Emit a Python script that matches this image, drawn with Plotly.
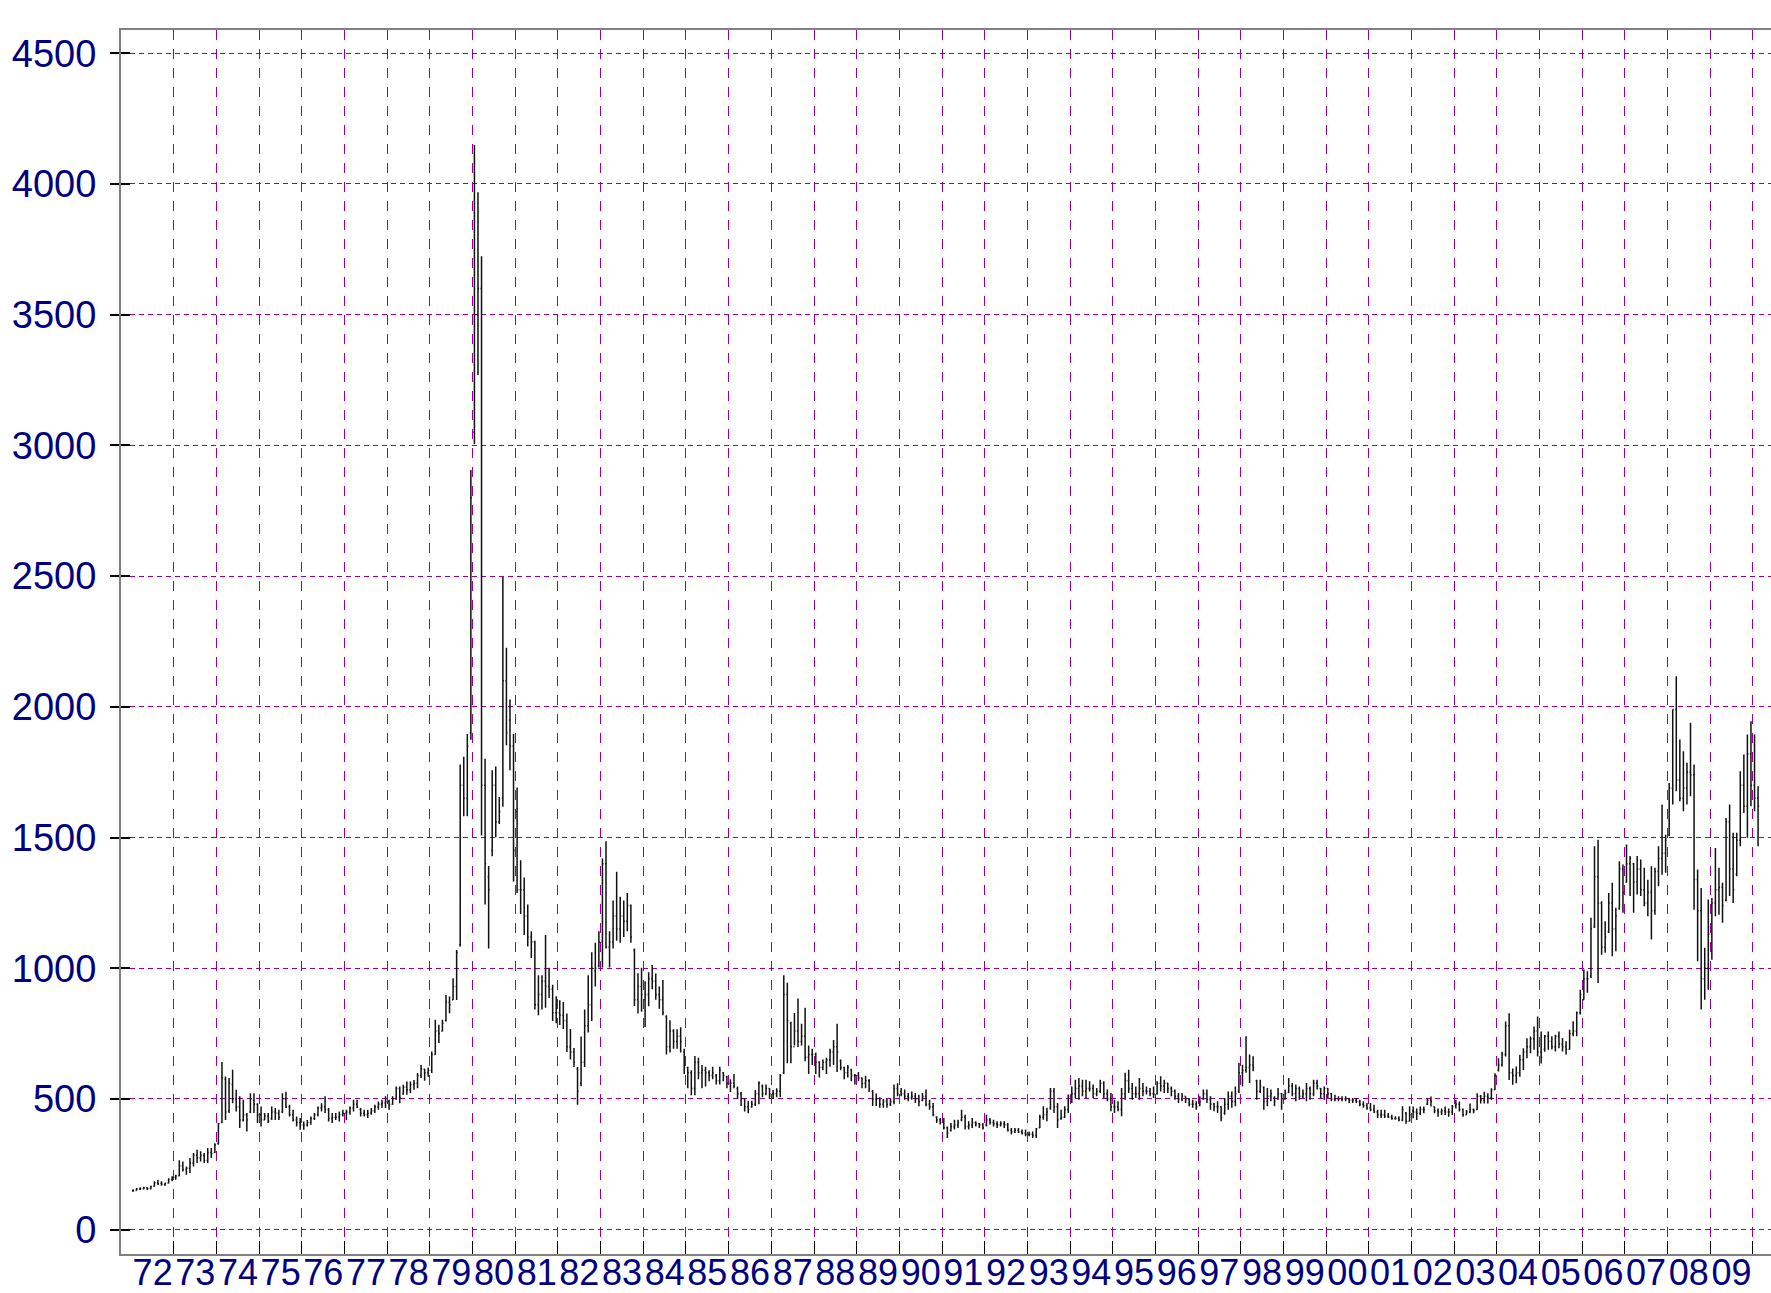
import plotly.graph_objects as go

# Monthly price bars (cents), Jan 1972 .. Feb 2010, one row per year (Jan..Dec)
first_year = 1972

high = [
    155, 159, 162, 164, 162, 168, 185, 190, 185, 180, 197, 204,          # 1972
    210, 266, 261, 242, 274, 293, 306, 300, 293, 312, 312, 331,          # 1973
    408, 641, 586, 580, 612, 535, 510, 497, 446, 522, 522, 484,          # 1974
    471, 446, 446, 471, 465, 459, 522, 528, 478, 459, 433, 427,          # 1975
    414, 420, 433, 446, 471, 484, 510, 465, 446, 446, 452, 459,          # 1976
    459, 471, 497, 497, 465, 459, 459, 465, 478, 490, 497, 510,          # 1977
    497, 510, 548, 548, 554, 567, 567, 573, 599, 630, 615, 620,          # 1978
    682, 803, 784, 803, 898, 892, 962, 1070, 1779, 1809, 1896, 2906,     # 1979
    4149, 3968, 3724, 1801, 1391, 1757, 1772, 1655, 2497, 2226, 2028, 1896,  # 1980
    1691, 1413, 1347, 1244, 1142, 1105, 973, 973, 1127, 1002, 937, 893,  # 1981
    878, 871, 827, 768, 695, 622, 739, 842, 973, 1061, 1098, 1142,       # 1982
    1420, 1486, 1142, 1259, 1369, 1274, 1259, 1288, 1244, 1076, 981, 1002,  # 1983
    950, 985, 1012, 980, 930, 955, 820, 801, 767, 767, 774, 692,         # 1984
    623, 610, 664, 658, 630, 623, 610, 623, 596, 623, 603, 589,          # 1985
    575, 596, 548, 527, 500, 493, 493, 534, 568, 555, 555, 541,          # 1986
    534, 541, 596, 973, 945, 795, 829, 884, 788, 849, 705, 692,          # 1987
    678, 644, 651, 658, 692, 726, 788, 651, 623, 630, 616, 596,          # 1988
    603, 582, 589, 575, 534, 521, 507, 500, 500, 500, 555, 560,          # 1989
    542, 536, 523, 529, 523, 516, 523, 536, 497, 485, 434, 427,          # 1990
    427, 395, 408, 421, 421, 459, 440, 415, 427, 415, 408, 408,          # 1991
    440, 427, 421, 415, 415, 415, 408, 389, 389, 389, 383, 383,          # 1992
    376, 376, 389, 440, 472, 466, 542, 542, 485, 459, 472, 517,          # 1993
    548, 574, 580, 574, 574, 568, 555, 542, 574, 568, 536, 523,          # 1994
    497, 491, 542, 600, 612, 561, 548, 580, 561, 548, 542, 548,          # 1995
    568, 587, 574, 561, 548, 536, 523, 523, 510, 504, 497, 491,          # 1996
    510, 536, 536, 510, 485, 491, 472, 504, 529, 529, 548, 638,          # 1997
    631, 740, 670, 663, 574, 574, 548, 542, 536, 510, 542, 523,          # 1998
    536, 580, 561, 555, 548, 536, 561, 548, 574, 574, 542, 548,          # 1999
    542, 523, 516, 510, 510, 510, 504, 504, 504, 497, 491, 485,          # 2000
    485, 478, 459, 459, 459, 446, 440, 434, 434, 472, 450, 472,          # 2001
    471, 464, 471, 471, 503, 509, 471, 464, 464, 471, 464, 477,          # 2002
    496, 490, 464, 458, 483, 464, 522, 515, 528, 522, 541, 598,          # 2003
    656, 681, 796, 828, 617, 624, 668, 694, 732, 739, 777, 815,          # 2004
    758, 745, 758, 740, 746, 758, 733, 721, 765, 797, 835, 918,          # 2005
    995, 989, 1193, 1467, 1492, 1256, 1180, 1288, 1327, 1231, 1409, 1397,  # 2006
    1473, 1429, 1403, 1429, 1416, 1384, 1339, 1390, 1384, 1467, 1626, 1511,  # 2007
    1709, 1990, 2117, 1875, 1830, 1786, 1939, 1779, 1378, 1307, 1078, 1263,  # 2008
    1269, 1460, 1384, 1327, 1575, 1626, 1518, 1518, 1754, 1818, 1894, 1945,  # 2009
    1894, 1696,                                                          # 2010
]

low = [
    145, 150, 152, 154, 152, 155, 164, 171, 168, 168, 177, 185,
    191, 204, 223, 210, 217, 242, 255, 261, 255, 255, 274, 293,
    325, 408, 420, 446, 484, 452, 389, 414, 376, 446, 446, 408,
    395, 420, 408, 420, 420, 420, 446, 465, 433, 414, 395, 382,
    382, 395, 401, 420, 433, 452, 446, 414, 408, 420, 414, 433,
    420, 440, 452, 465, 433, 433, 427, 440, 446, 459, 465, 465,
    459, 478, 497, 484, 516, 516, 522, 535, 541, 580, 570, 585,
    599, 669, 714, 758, 796, 828, 879, 879, 1083, 1581, 1581, 1874,
    3004, 3269, 1508, 1244, 1076, 1428, 1501, 1552, 1618, 1853, 1757, 1332,
    1288, 1208, 1127, 1083, 1039, 842, 820, 842, 849, 886, 798, 790,
    783, 768, 680, 651, 622, 478, 549, 622, 754, 798, 930, 1003,
    1003, 1076, 1003, 1076, 1105, 1098, 1120, 1142, 1098, 856, 827, 834,
    775, 855, 920, 880, 845, 820, 670, 678, 692, 692, 678, 596,
    541, 514, 514, 575, 541, 548, 568, 575, 555, 555, 568, 541,
    527, 541, 500, 473, 452, 445, 466, 473, 480, 507, 514, 500,
    500, 507, 507, 596, 637, 637, 705, 699, 705, 644, 596, 630,
    596, 582, 610, 596, 623, 630, 603, 610, 575, 582, 568, 555,
    568, 541, 541, 527, 473, 473, 466, 466, 466, 473, 480, 510,
    510, 497, 491, 497, 485, 472, 491, 472, 459, 434, 408, 402,
    383, 351, 376, 383, 389, 415, 383, 383, 389, 395, 389, 383,
    395, 402, 395, 389, 395, 389, 376, 364, 370, 370, 364, 357,
    357, 351, 351, 389, 421, 415, 459, 446, 389, 421, 427, 446,
    485, 504, 497, 510, 504, 529, 504, 510, 523, 504, 491, 453,
    446, 453, 434, 497, 523, 497, 504, 497, 510, 517, 510, 504,
    517, 529, 523, 523, 510, 497, 485, 491, 485, 472, 466, 459,
    472, 497, 485, 459, 453, 446, 415, 440, 459, 466, 472, 523,
    548, 600, 561, 606, 497, 523, 459, 472, 491, 472, 497, 459,
    497, 523, 510, 491, 497, 504, 491, 497, 510, 536, 504, 497,
    504, 491, 491, 491, 491, 491, 485, 485, 485, 472, 466, 459,
    453, 446, 427, 427, 427, 427, 421, 421, 415, 415, 405, 415,
    426, 420, 439, 445, 477, 471, 445, 432, 439, 439, 432, 439,
    464, 452, 432, 439, 445, 445, 458, 483, 483, 483, 496, 534,
    605, 624, 662, 573, 554, 560, 585, 611, 656, 675, 688, 662,
    636, 681, 688, 689, 682, 694, 682, 670, 689, 740, 740, 823,
    880, 906, 963, 1154, 944, 1052, 1059, 1135, 1046, 1065, 1224, 1212,
    1327, 1276, 1212, 1282, 1276, 1237, 1199, 1110, 1205, 1314, 1358, 1365,
    1505, 1626, 1677, 1639, 1601, 1626, 1658, 1224, 1027, 842, 880, 918,
    1033, 1199, 1205, 1174, 1256, 1276, 1250, 1352, 1467, 1594, 1499, 1620,
    1601, 1467,
]

open_ = [
    148, 150, 156, 158, 160, 157, 166, 180, 178, 172, 179, 193,
    200, 206, 245, 230, 235, 255, 285, 275, 285, 265, 295, 295,
    330, 410, 575, 455, 555, 500, 470, 420, 440, 450, 495, 480,
    440, 420, 435, 425, 450, 445, 450, 500, 470, 440, 420, 410,
    400, 400, 410, 425, 440, 465, 470, 460, 425, 430, 430, 440,
    445, 450, 465, 480, 460, 445, 440, 445, 455, 470, 480, 485,
    490, 480, 500, 540, 520, 545, 535, 555, 560, 590, 615, 600,
    610, 670, 760, 760, 800, 870, 880, 930, 1090, 1700, 1650, 1900,
    3050, 3500, 3600, 1700, 1350, 1450, 1700, 1560, 1650, 2100, 1950, 1850,
    1600, 1300, 1300, 1200, 1120, 1100, 860, 900, 950, 930, 920, 830,
    830, 820, 800, 700, 680, 615, 560, 640, 780, 860, 990, 1010,
    1100, 1400, 1080, 1100, 1200, 1150, 1200, 1180, 1240, 1070, 880, 930,
    880, 900, 960, 950, 900, 880, 815, 700, 760, 720, 740, 680,
    620, 600, 540, 640, 600, 610, 600, 590, 590, 570, 600, 585,
    560, 560, 540, 520, 500, 470, 470, 480, 520, 550, 520, 540,
    520, 520, 530, 600, 900, 790, 700, 760, 720, 740, 660, 670,
    670, 640, 620, 640, 650, 680, 700, 645, 620, 600, 610, 590,
    590, 580, 560, 570, 530, 500, 500, 480, 490, 480, 490, 540,
    530, 520, 510, 505, 510, 500, 495, 510, 480, 470, 430, 420,
    410, 390, 380, 395, 400, 420, 430, 395, 400, 410, 405, 400,
    400, 420, 410, 405, 400, 405, 400, 380, 375, 380, 375, 370,
    365, 365, 360, 390, 430, 440, 465, 530, 470, 425, 430, 460,
    510, 520, 540, 550, 530, 540, 540, 520, 530, 560, 520, 500,
    470, 470, 460, 520, 570, 540, 520, 520, 540, 530, 530, 520,
    520, 560, 550, 560, 540, 530, 510, 500, 510, 500, 480, 480,
    475, 500, 520, 500, 480, 470, 470, 445, 480, 510, 490, 530,
    600, 610, 620, 630, 570, 530, 545, 490, 510, 505, 500, 520,
    500, 525, 550, 520, 540, 510, 520, 540, 520, 560, 540, 520,
    540, 520, 500, 500, 500, 500, 500, 495, 495, 490, 480, 475,
    465, 460, 450, 440, 440, 435, 430, 425, 425, 420, 445, 415,
    455, 450, 445, 460, 480, 495, 470, 455, 450, 455, 450, 450,
    475, 480, 460, 440, 450, 460, 460, 510, 495, 510, 505, 535,
    610, 630, 670, 780, 600, 590, 600, 650, 680, 700, 730, 760,
    680, 690, 740, 720, 700, 740, 710, 700, 690, 750, 760, 830,
    880, 960, 970, 1160, 1350, 1250, 1080, 1140, 1250, 1150, 1230, 1380,
    1330, 1400, 1400, 1330, 1380, 1300, 1250, 1290, 1220, 1370, 1420, 1440,
    1510, 1690, 1990, 1720, 1650, 1690, 1750, 1740, 1340, 1220, 960, 1000,
    1130, 1250, 1300, 1310, 1260, 1560, 1380, 1360, 1490, 1700, 1620, 1820,
    1700, 1650,
]

close = [
    150, 156, 158, 160, 157, 165, 180, 176, 174, 178, 192, 200,
    205, 245, 230, 235, 255, 285, 275, 285, 265, 295, 290, 325,
    405, 580, 450, 560, 500, 470, 420, 440, 420, 500, 480, 440,
    420, 435, 415, 450, 445, 430, 500, 470, 440, 420, 410, 400,
    400, 410, 425, 440, 465, 470, 460, 425, 430, 430, 440, 445,
    450, 465, 480, 470, 445, 440, 445, 455, 470, 480, 485, 490,
    480, 500, 540, 505, 545, 535, 555, 560, 590, 615, 600, 610,
    670, 760, 750, 790, 870, 860, 930, 1060, 1700, 1650, 1850, 2800,
    3500, 3600, 1700, 1400, 1300, 1700, 1560, 1600, 2100, 1900, 1850, 1450,
    1300, 1300, 1200, 1120, 1100, 860, 900, 950, 930, 920, 830, 830,
    820, 800, 700, 680, 640, 530, 640, 780, 860, 1000, 1000, 1100,
    1400, 1080, 1100, 1200, 1150, 1200, 1180, 1240, 1120, 880, 930, 900,
    900, 960, 950, 900, 880, 830, 700, 760, 720, 740, 720, 620,
    600, 540, 640, 600, 610, 600, 590, 600, 570, 610, 590, 560,
    560, 550, 520, 500, 470, 460, 480, 520, 560, 520, 540, 520,
    520, 530, 590, 900, 800, 700, 760, 720, 740, 660, 670, 670,
    640, 620, 640, 650, 680, 700, 680, 620, 600, 620, 590, 590,
    580, 560, 570, 540, 500, 500, 480, 490, 480, 490, 540, 520,
    520, 510, 505, 510, 500, 490, 510, 480, 470, 440, 420, 410,
    390, 370, 395, 400, 410, 430, 395, 400, 410, 405, 400, 390,
    420, 410, 405, 400, 405, 400, 380, 375, 380, 375, 370, 365,
    365, 360, 385, 430, 440, 450, 530, 470, 420, 430, 460, 510,
    520, 540, 550, 530, 540, 540, 520, 530, 560, 520, 500, 470,
    470, 460, 520, 570, 540, 520, 520, 540, 530, 530, 520, 520,
    560, 550, 560, 540, 530, 510, 500, 510, 500, 480, 480, 470,
    490, 520, 500, 480, 470, 470, 430, 480, 510, 490, 520, 600,
    610, 620, 630, 620, 530, 550, 490, 510, 520, 490, 520, 500,
    520, 550, 520, 540, 510, 520, 540, 520, 560, 550, 520, 540,
    520, 500, 500, 500, 500, 500, 495, 495, 490, 480, 475, 465,
    460, 450, 440, 440, 435, 430, 425, 425, 420, 460, 415, 440,
    450, 445, 460, 460, 495, 490, 455, 450, 455, 450, 450, 470,
    480, 460, 440, 450, 460, 455, 510, 495, 510, 505, 535, 590,
    630, 670, 780, 600, 590, 600, 650, 680, 700, 730, 760, 680,
    660, 740, 720, 700, 740, 710, 700, 690, 750, 760, 830, 900,
    960, 960, 1150, 1350, 1250, 1080, 1120, 1250, 1150, 1200, 1380, 1290,
    1400, 1420, 1330, 1380, 1300, 1250, 1290, 1220, 1370, 1420, 1440, 1490,
    1690, 1990, 1720, 1650, 1690, 1750, 1740, 1340, 1220, 960, 1000, 1130,
    1250, 1300, 1310, 1240, 1560, 1380, 1300, 1490, 1700, 1620, 1820, 1700,
    1650, 1620,
]

year_labels = ["72", "73", "74", "75", "76", "77", "78", "79", "80", "81",
               "82", "83", "84", "85", "86", "87", "88", "89", "90", "91",
               "92", "93", "94", "95", "96", "97", "98", "99", "00", "01",
               "02", "03", "04", "05", "06", "07", "08", "09"]
y_ticks = [0, 500, 1000, 1500, 2000, 2500, 3000, 3500, 4000, 4500]

# each monthly bar sits in the middle of its month on a fractional-year axis
x = [first_year + (i + 0.5) / 12 for i in range(len(high))]
label_pos = [first_year + k + 0.5 for k in range(len(year_labels))]
year_bounds = [first_year + k for k in range(1, len(year_labels) + 1)]

x_range = [1971.759, 2010.428]
y_range = [-93, 4589]
grid_col = "#990099"
label_font = dict(family="Liberation Sans, Arial, sans-serif", color="#000080")

fig = go.Figure()
fig.add_trace(go.Ohlc(
    x=x, open=open_, high=high, low=low, close=close,
    increasing=dict(line=dict(color="#111111", width=1.5)),
    decreasing=dict(line=dict(color="#111111", width=1.5)),
    tickwidth=0.3, hoverinfo="skip", showlegend=False,
))
# empty trace so the overlay axes (labels / inner ticks) get drawn
fig.add_trace(go.Scatter(x=[None], y=[None], xaxis="x2", yaxis="y2",
                         showlegend=False, hoverinfo="skip"))

fig.update_layout(
    width=1771, height=1293,
    margin=dict(l=121, r=0, t=30, b=39, autoexpand=False),
    paper_bgcolor="white", plot_bgcolor="white",
    showlegend=False,
    xaxis=dict(
        range=x_range, rangeslider=dict(visible=False), automargin=False,
        tickmode="array", tickvals=year_bounds, showticklabels=False,
        ticks="inside", ticklen=13, tickcolor="black", tickwidth=1,
        showgrid=True, gridcolor=grid_col, gridwidth=1, griddash="10px,9px",
        showline=True, linecolor="#808080", linewidth=2, mirror=True,
        zeroline=False,
    ),
    xaxis2=dict(
        range=x_range, overlaying="x", anchor="y2", side="bottom",
        automargin=False, tickangle=0,
        tickmode="array", tickvals=label_pos, ticktext=year_labels,
        ticks="", showgrid=False, showline=False, zeroline=False,
        tickfont=dict(size=36, **label_font), ticklabelstandoff=-6,
    ),
    yaxis=dict(
        range=y_range, tickmode="array", tickvals=y_ticks, automargin=False,
        ticks="outside", ticklen=9, tickcolor="black", tickwidth=1.5,
        tickfont=dict(size=38, **label_font), ticklabelstandoff=6,
        showgrid=True, gridcolor=grid_col, gridwidth=1, griddash="5px,4px",
        showline=True, linecolor="#808080", linewidth=2,
        zeroline=False,
    ),
    yaxis2=dict(
        range=y_range, overlaying="y", anchor="x", side="left",
        automargin=False,
        tickmode="array", tickvals=y_ticks, showticklabels=False,
        ticks="inside", ticklen=9, tickcolor="black", tickwidth=1.5,
        showgrid=False, showline=False, zeroline=False,
    ),
)

fig.write_html("out.html")
